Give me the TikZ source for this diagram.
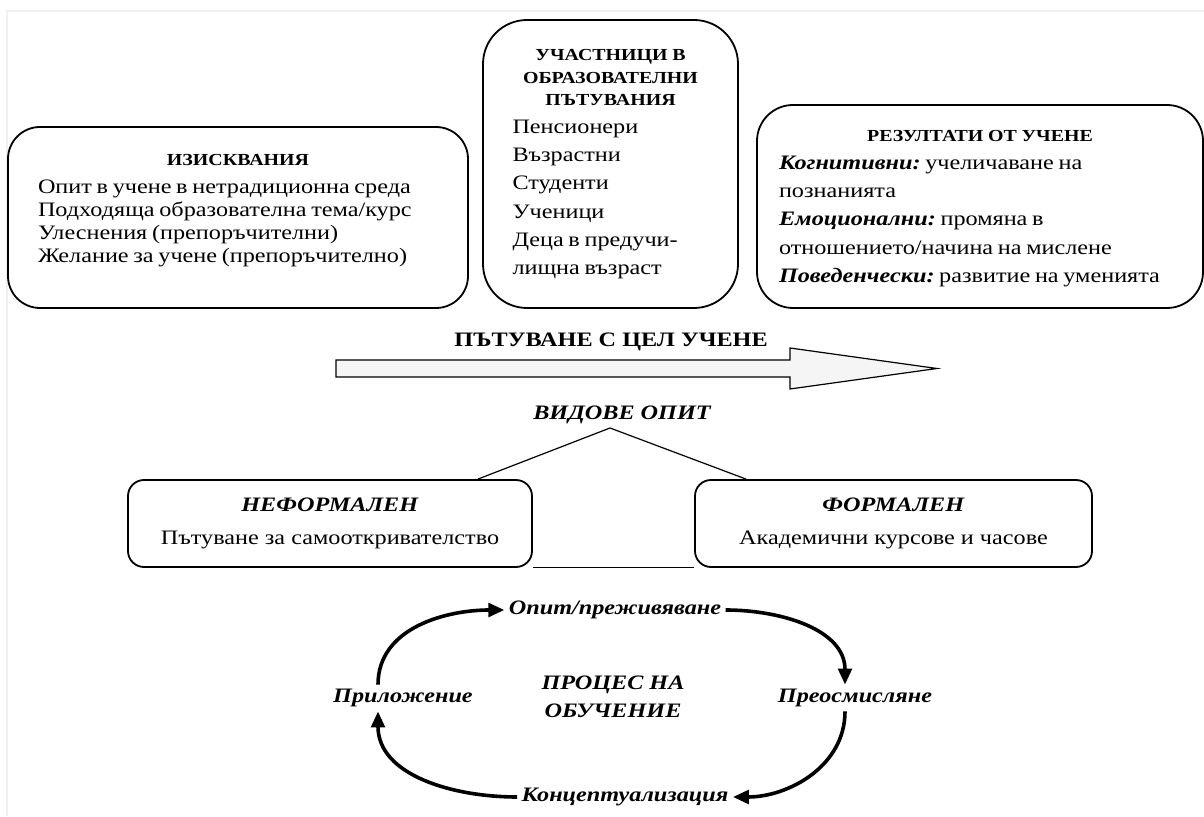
\documentclass[tikz,border=0pt]{standalone}
\usepackage{fontspec}
\setmainfont{Liberation Serif}[FakeStretch=1.18]
\usetikzlibrary{arrows.meta}

\newcommand{\textsz}[1]{\fontsize{14.6}{#1}\selectfont\lineskiplimit=-20pt\frenchspacing}
\newcommand{\headsize}{\fontsize{12}{16}\selectfont\bfseries}
\newcommand{\bi}[1]{\textbf{\textit{#1}}}

\tikzset{
  panel/.style={draw, line width=0.045cm, rounded corners=0.8cm, inner sep=0pt, align=left},
  kind/.style={draw, line width=0.045cm, rounded corners=0.4cm, align=center, font=\textsz{20pt}},
  stage/.style={font=\textsz{20pt}\bfseries\itshape, inner sep=3pt},
  cyc/.style={line width=0.09cm, -{Triangle[length=0.4cm,width=0.34cm]}},
}

\begin{document}
\begin{tikzpicture}
% \clip (0,0) rectangle (30.100000,20.400000);
\useasboundingbox (0,0) rectangle (30.100000,20.400000);

% Drawing page frame
\draw [gray!12, line width=0.03cm] (0.175000,0.000000) -- (0.175000,20.125000) -- (30.100000,20.125000);%

% Drawing box requirements
\node (req) [panel, minimum width=11.500000cm, minimum height=4.525000cm, text width=10.000000cm]
  at (5.950000,14.962500) {\textsz{16.5pt}\makebox[\linewidth]{\headsize ИЗИСКВАНИЯ}\\[3.4pt]
  \mbox{Опит в учене в нетрадиционна среда}\\[0pt]
  \mbox{Подходяща образователна тема/курс}\\[0pt]
  Улеснения (препоръчителни)\\[0pt]
  \mbox{Желание за учене (препоръчително)}\rule[-13pt]{0pt}{0pt}\par};%

% Drawing box participants
\node (part) [panel, rounded corners=1.100000cm, minimum width=6.375000cm, minimum height=7.200000cm, text width=4.900000cm]
  at (15.262500,16.300000) {\textsz{20pt}{\headsize\centering УЧАСТНИЦИ В\\ОБРАЗОВАТЕЛНИ\\ПЪТУВАНИЯ\par}
  Пенсионери\\
  Възрастни\\
  Студенти\\
  Ученици\\
  Деца в предучи-\\
  лищна възраст\par};%

% Drawing box results
\node (res) [panel, rounded corners=0.900000cm, minimum width=11.150000cm, minimum height=5.075000cm, text width=10.050000cm]
  at (24.500000,15.237500) {\textsz{20pt}\makebox[\linewidth]{\headsize\rule{0pt}{10.8pt}РЕЗУЛТАТИ ОТ УЧЕНЕ}\\[0pt]
  \bi{Когнитивни:} учеличаване на\\
  познанията\\
  \bi{Емоционални:} промяна в\\
  \mbox{отношението/начина на мислене}\\
  \mbox{\bi{Поведенчески:} развитие на уменията}\par};%

% Drawing arrow of the trip
\draw [line width=0.03cm, fill=gray!8] (8.400000,11.400000) -- (19.750000,11.400000) -- (19.750000,11.700000)
  -- (23.425000,11.187500) -- (19.750000,10.675000) -- (19.750000,10.975000) -- (8.400000,10.975000) -- cycle;%
\node (trip) [font=\textsz{20pt}\bfseries] at (15.275000,11.850000) {ПЪТУВАНЕ С ЦЕЛ УЧЕНЕ};%

% Drawing kinds of experience
\node (kinds) [font=\textsz{20pt}\bfseries\itshape] at (15.550000,10.025000) {ВИДОВЕ ОПИТ};%
\coordinate (apex) at (15.250000,9.700000);%
\node (inf) [kind, minimum width=10.100000cm, minimum height=2.175000cm] at (8.250000,7.312500)
  {\bi{НЕФОРМАЛЕН}\\[0.12cm] Пътуване за самооткривателство};%
\node (form) [kind, minimum width=9.925000cm, minimum height=2.175000cm] at (22.337500,7.312500)
  {\bi{ФОРМАЛЕН}\\[0.12cm] Академични курсове и часове};%
\draw [line width=0.03cm] ([xshift=-1.375000cm]inf.north east) -- (apex) -- ([xshift=1.300000cm]form.north west);%
\draw [line width=0.03cm] (inf.south east) -- (form.south west);%

% Drawing learning cycle
\node (exp) [stage] at (15.375000,5.150000) {Опит/преживяване};%
\node (refl) [stage] at (21.375000,2.950000) {Преосмисляне};%
\node (conc) [stage] at (15.625000,0.475000) {Концептуализация};%
\node (appl) [stage] at (10.075000,2.950000) {Приложение};%
\node (proc) [stage, align=center] at (15.325000,2.975000) {ПРОЦЕС НА\\ОБУЧЕНИЕ};%
\draw [cyc] ([xshift=-0.625000cm]appl.north) to [out=90, in=180] (exp.west);%
\draw [cyc] (exp.east) to [out=0, in=90] ([xshift=-0.250000cm]refl.north);%
\draw [cyc] ([xshift=-0.250000cm]refl.south) to [out=-90, in=0] (conc.east);%
\draw [cyc] (conc.west) to [out=180, in=-90] ([xshift=-0.625000cm]appl.south);%
\end{tikzpicture}
\end{document}
